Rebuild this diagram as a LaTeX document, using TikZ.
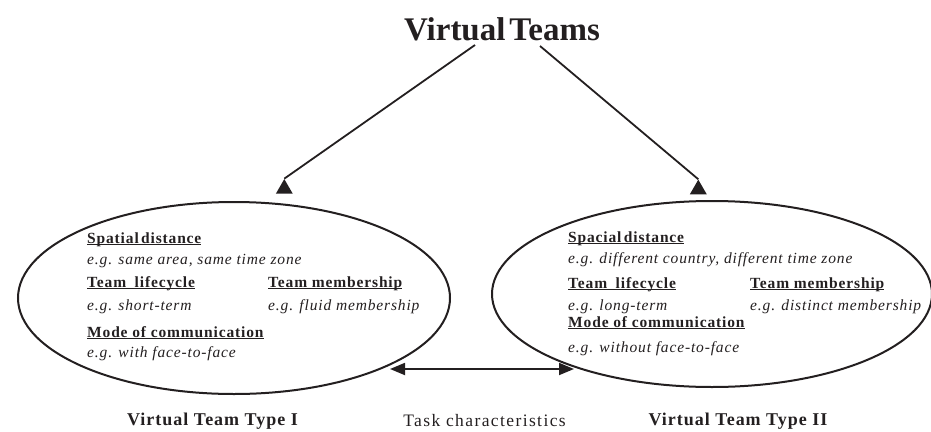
\documentclass[tikz,border=0pt]{standalone}
\usepackage{fontspec}
\setmainfont{Liberation Serif}
\newfontfamily\trackedfont{Liberation Serif}[LetterSpace=5.5]
\newfontfamily\widefont{Liberation Serif}[LetterSpace=8]
\usetikzlibrary{shapes.geometric,arrows.meta}
\definecolor{ink}{RGB}{35,31,32}
% underline set just below the baseline, crossing descenders
\newcommand{\ulinetext}[1]{\setbox0\hbox{#1}\rlap{\rule[-2.2pt]{\wd0}{0.9pt}}\box0}

\tikzset{
  heading/.style={anchor=base west, inner sep=0pt, text=ink,
    font=\trackedfont\fontsize{15.5}{18}\selectfont\bfseries},
  example/.style={anchor=base west, inner sep=0pt, text=ink,
    font=\trackedfont\fontsize{15.5}{18}\selectfont\itshape},
  caption/.style={anchor=base, inner sep=0pt, text=ink,
    font=\trackedfont\fontsize{18}{21}\selectfont\bfseries},
  teamtype/.style={ellipse, draw=ink, line width=2pt, inner sep=0pt},
  tiphead/.style={regular polygon, regular polygon sides=3, fill=ink,
    minimum size=19.5pt, inner sep=0pt},
  link/.style={draw=ink, line width=1.8pt},
}

\begin{document}
\begin{tikzpicture}[x=1pt, y=-1pt]
  \useasboundingbox (0,0) rectangle (931,431);

  % title
  \node[anchor=base, inner sep=0pt, text=ink,
        font=\fontsize{33}{36}\selectfont\bfseries] (title) at (502,40)
        {Virtual\hspace{0.12em}Teams};

  % the two team types
  \node[teamtype, minimum width=432pt, minimum height=192pt] (typeA) at (234,298) {};
  \node[teamtype, minimum width=440pt, minimum height=186pt] (typeB) at (712,294) {};

  % arrow heads standing upright under the two branches
  \node[tiphead] (tipA) at (284.3,188.8) {};
  \node[tiphead] (tipB) at (698.3,189.4) {};
  \coordinate (startA) at (475,45);
  \coordinate (startB) at (540,46);
  \draw[link] (startA) -- (tipA.corner 1);
  \draw[link] (startB) -- (tipB.corner 1);

  % type I contents
  \node[heading] (a1) at (87,243) {\ulinetext{Spatial\hspace{0.15em}distance}};
  \node[example] (a2) at (87,264) {e.g. same area, same time zone};
  \node[heading] (a3) at (87,287) {\ulinetext{Team\hspace{0.55em}lifecycle}};
  \node[heading] (a4) at (268,287) {\ulinetext{Team membership}};
  \node[example] (a5) at (87,310) {e.g. short-term};
  \node[example] (a6) at (268,310) {e.g. fluid membership};
  \node[heading] (a7) at (87,337) {\ulinetext{Mode of communication}};
  \node[example] (a8) at (87,357) {e.g. with face-to-face};

  % type II contents
  \node[heading] (b1) at (568,242) {\ulinetext{Spacial\hspace{0.15em}distance}};
  \node[example] (b2) at (568,263) {e.g. different country, different time zone};
  \node[heading] (b3) at (568,288) {\ulinetext{Team\hspace{0.55em}lifecycle}};
  \node[heading] (b4) at (750,288) {\ulinetext{Team membership}};
  \node[example] (b5) at (568,310) {e.g. long-term};
  \node[example] (b6) at (750,310) {e.g. distinct membership};
  \node[heading] (b7) at (568,327) {\ulinetext{Mode of communication}};
  \node[example] (b8) at (568,352) {e.g. without face-to-face};

  % task characteristics link
  \coordinate (taskL) at (390,369);
  \coordinate (taskR) at (574,369);
  \draw[link, {Triangle[length=15pt,width=12pt]}-{Triangle[length=15pt,width=12pt]}]
    (taskL) -- (taskR);

  % captions
  \node[caption] (capA) at (212.5,425) {Virtual Team Type I};
  \node[anchor=base, inner sep=0pt, text=ink,
        font=\widefont\fontsize{17.5}{20}\selectfont] (capT) at (484.5,426) {Task characteristics};
  \node[caption] (capB) at (738,425) {Virtual Team Type II};
\end{tikzpicture}
\end{document}
